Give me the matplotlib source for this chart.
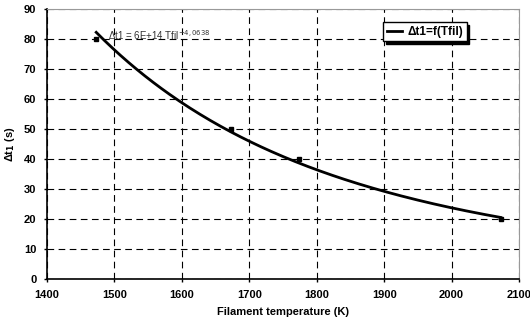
import matplotlib
matplotlib.use("Agg")
import matplotlib.pyplot as plt
import numpy as np

plt.rcParams['font.family'] = ['Liberation Sans', 'DejaVu Sans']

# measured points
temp = [1473, 1673, 1773, 2073]
dt1 = [80, 50, 40, 20]

# power trend line  dt1 = a * T^b  (label shows the rounded coefficient)
a = 6.165e14
b = -4.0638

fig = plt.figure(figsize=(5.3, 3.27), dpi=100)
ax = fig.add_axes([47 / 530, 48 / 327, 472 / 530, 270 / 327])

tt = np.linspace(min(temp), max(temp), 200)
ax.plot(tt, a * tt ** b, color='black', lw=2, label='Δt1=f(Tfil)', zorder=3)
ax.plot(temp, dt1, 's', color='black', ms=3, zorder=4)

ax.set_xlim(1400, 2100)
ax.set_ylim(0, 90)
ax.set_xticks(np.arange(1400, 2101, 100))
ax.set_yticks(np.arange(0, 91, 10))
ax.grid(True, color='black', ls=(0, (6, 4)), lw=0.8)
for s in ['top', 'right']:
    ax.spines[s].set_color('#999999')
for s in ['left', 'bottom']:
    ax.spines[s].set_linewidth(1.2)
ax.tick_params(labelsize=8, width=1, length=2)
ax.tick_params(axis='x', pad=6.2)
ax.tick_params(axis='y', pad=5.6)
for lab in ax.get_xticklabels() + ax.get_yticklabels():
    lab.set_fontweight('bold')

ax.set_xlabel('Filament temperature (K)', fontsize=8, fontweight='bold', labelpad=5)
ax.set_ylabel('Δt$_\\mathbf{1}$ (s)', fontsize=8, fontweight='bold', labelpad=5)

ax.text(1490, 79.8, 'Δt1 = 6E+14 Tfil$^{-4,0638}$', fontsize=7, color='#333333',
        va='baseline')

leg = ax.legend(loc='upper left', bbox_to_anchor=(0.712, 0.951),
                prop={'weight': 'bold', 'size': 8.5}, fancybox=False,
                shadow={'color': 'black', 'alpha': 1},
                framealpha=1, edgecolor='black', handlelength=1.3,
                borderpad=0.3, handletextpad=0.45, borderaxespad=0)
leg.get_frame().set_linewidth(1)

fig.savefig('out.png', dpi=100)
